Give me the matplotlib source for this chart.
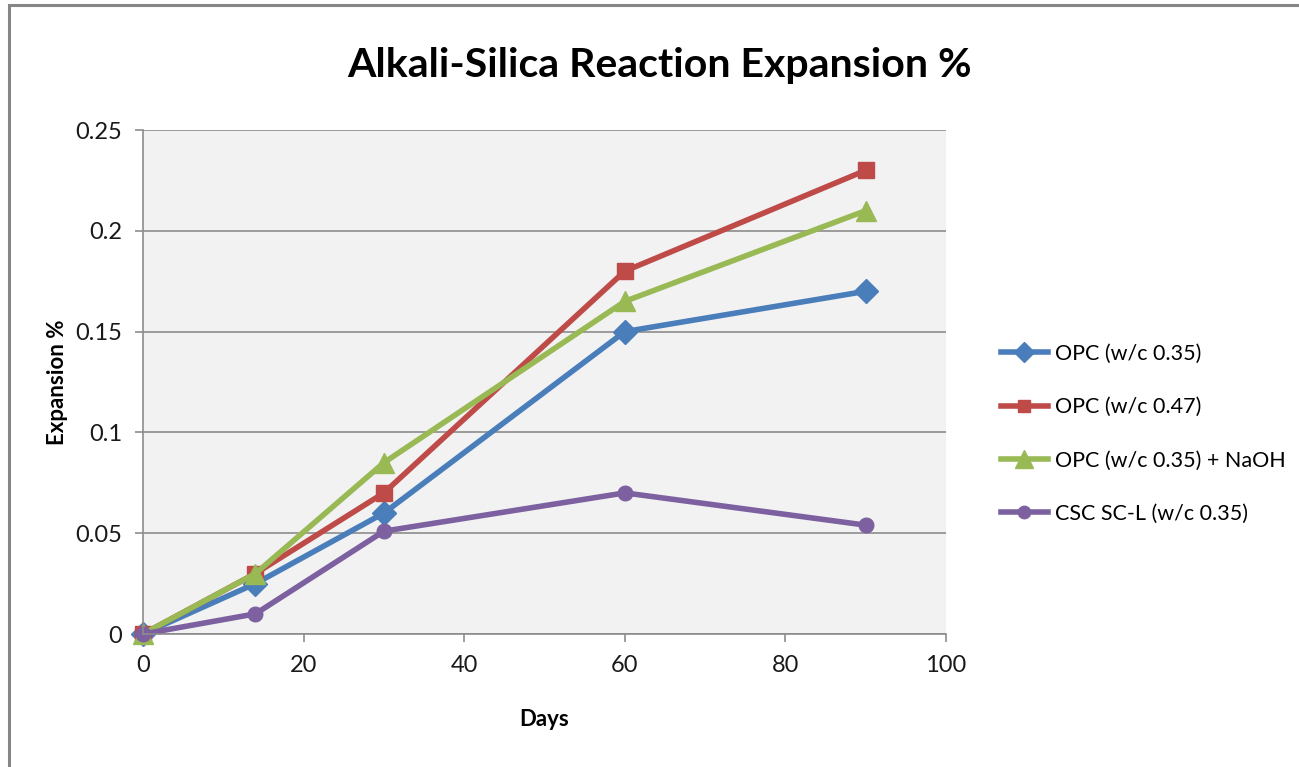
import matplotlib.pyplot as plt
from matplotlib.patches import Rectangle

days = [0, 14, 30, 60, 90]
opc_035 = [0, 0.025, 0.06, 0.15, 0.17]
opc_047 = [0, 0.03, 0.07, 0.18, 0.23]
opc_035_naoh = [0, 0.03, 0.085, 0.165, 0.21]
csc_scl = [0, 0.01, 0.051, 0.07, 0.054]

labels = ["OPC (w/c 0.35)", "OPC (w/c 0.47)", "OPC (w/c 0.35) + NaOH", "CSC SC-L (w/c 0.35)"]
colors = ["#4A7EBB", "#BE4B48", "#98B954", "#7D60A0"]
markers = ["D", "s", "^", "o"]
msizes = [12, 11, 15, 10.5]

plt.rcParams["font.family"] = ["Lato", "DejaVu Sans"]

fig = plt.figure(figsize=(12.99, 7.67), dpi=100)
ax = fig.add_axes([0.1101, 0.1734, 0.6182, 0.6571])
ax.set_facecolor("#F2F2F2")

for ys, lab, c, m, ms in zip([opc_035, opc_047, opc_035_naoh, csc_scl], labels, colors, markers, msizes):
    ax.plot(days, ys, color=c, marker=m, markersize=ms, linewidth=4, label=lab, clip_on=False)

ax.set_xlim(0, 100)
ax.set_ylim(0, 0.25)
ax.set_xticks([0, 20, 40, 60, 80, 100])
ax.set_yticks([0, 0.05, 0.1, 0.15, 0.2, 0.25])
ax.set_yticklabels(["0", "0.05", "0.1", "0.15", "0.2", "0.25"])
ax.yaxis.grid(True, color="#8C8C8C", linewidth=1.2)
ax.set_axisbelow(True)
for s in ["top", "right"]:
    ax.spines[s].set_visible(False)
for s in ["left", "bottom"]:
    ax.spines[s].set_color("#8C8C8C")
    ax.spines[s].set_linewidth(1.2)
ax.tick_params(colors="#8C8C8C", labelcolor="#1A1A1A", labelsize=17, length=6, width=1.2, pad=9)

ax.set_xlabel("Days", fontsize=16, fontweight="bold", labelpad=24)
ax.set_ylabel("Expansion %", fontsize=16, fontweight="bold", labelpad=5)
fig.text(0.508, 0.915, "Alkali-Silica Reaction Expansion %", ha="center", va="center",
         fontsize=29.5, fontweight="bold")

ax.legend(loc="center left", bbox_to_anchor=(1.044, 0.397), frameon=False, fontsize=15.5,
          handlelength=2.2, labelspacing=1.55, handletextpad=0.3, markerscale=0.85)

# chart border
fig.patches.append(Rectangle((0.007, -0.05), 1.1, 1.043, transform=fig.transFigure,
                             fill=False, edgecolor="#868686", linewidth=2.2))

fig.savefig("out.png", dpi=100)
